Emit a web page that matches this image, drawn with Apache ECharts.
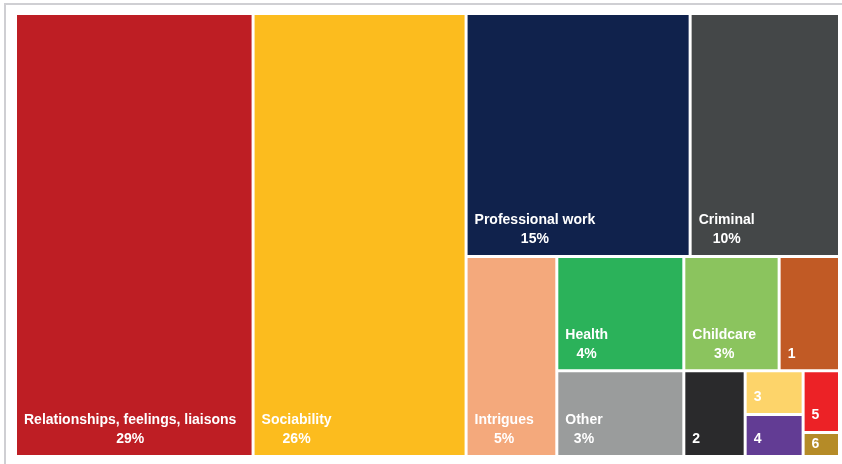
<!DOCTYPE html>
<html>
<head>
<meta charset="utf-8">
<script src="https://cdn.jsdelivr.net/npm/echarts@6/dist/echarts.min.js"></script>
<style>
  html, body { margin: 0; padding: 0; background: #ffffff; }
  #chart { width: 842px; height: 464px; }
</style>
</head>
<body>
<div id="chart"></div>
<script>
// Topics and their share of the total (%)
const topics = [
  'Relationships, feelings, liaisons', 'Sociability', 'Professional work', 'Criminal',
  'Intrigues', 'Health', 'Other', 'Childcare', '1', '2', '3', '4', '5', '6'
];
const shares = [29, 26, 15, 10, 5, 4, 3, 3, 1.9, 1.45, 0.7, 0.67, 0.62, 0.24];
// Only the larger topics carry a percentage in their label
const withPercent = [true, true, true, true, true, true, true, true, false, false, false, false, false, false];
const fills = [
  '#be1e24', '#fcbc1e', '#10224c', '#444748', '#f4a97c', '#2bb25a', '#9a9c9c',
  '#8bc45e', '#c15a25', '#2a2a2c', '#fdd46a', '#623c94', '#ec2226', '#b58b27'
];
// Nesting of the tiles (indices into the arrays above)
const grouping = [0, 1, [2, 3, [4, [5, 6], [[7, 8], [9, [10, 11], [12, 13]]]]]];
// Tiles too short for a bottom-anchored label get a vertically centred one
const centredLabel = new Set(['6']);

const FONT_FAMILY = '"Liberation Sans", Arial, sans-serif';
const FONT_SIZE = 14;

// The percentage line sits centred under the topic name, so the
// name's width is needed to anchor the two-line block at the left
const measureCtx = document.createElement('canvas').getContext('2d');
measureCtx.font = 'bold ' + FONT_SIZE + 'px ' + FONT_FAMILY;

function labelFor(i) {
  const lbl = {};
  if (withPercent[i]) {
    const w = measureCtx.measureText(topics[i]).width;
    lbl.align = 'center';
    lbl.offset = [w / 2 + 1, 0];
  } else {
    lbl.align = 'left';
    lbl.offset = [1, 0];
  }
  if (centredLabel.has(topics[i])) {
    lbl.position = 'insideLeft';
  }
  return lbl;
}

function buildNode(entry) {
  if (Array.isArray(entry)) {
    return { name: '', children: entry.map(buildNode) };
  }
  return {
    name: topics[entry],
    value: shares[entry],
    pct: withPercent[entry],
    itemStyle: { color: fills[entry] },
    label: labelFor(entry)
  };
}
const tree = grouping.map(buildNode);

const chart = echarts.init(document.getElementById('chart'), null, { renderer: 'canvas' });
chart.setOption({
  animation: false,
  backgroundColor: '#ffffff',
  graphic: [{
    type: 'rect',
    silent: true,
    shape: { x: 5, y: 4, width: 900, height: 500 },
    style: { fill: 'none', stroke: '#cfcfd3', lineWidth: 2 }
  }],
  series: [{
    type: 'treemap',
    left: 17,
    top: 15,
    width: 821,
    height: 440,
    roam: false,
    nodeClick: false,
    sort: false,
    squareRatio: 1,
    visibleMin: 0,
    breadcrumb: { show: false },
    itemStyle: { borderWidth: 0, gapWidth: 3, borderColor: '#ffffff' },
    upperLabel: { show: false },
    label: {
      show: true,
      position: 'insideBottomLeft',
      distance: 6,
      padding: 0,
      overflow: 'none',
      fontFamily: FONT_FAMILY,
      fontSize: FONT_SIZE,
      fontWeight: 'bold',
      color: '#ffffff',
      lineHeight: 19,
      formatter: function (p) {
        return p.data.pct ? p.name + '\n' + p.value + '%' : p.name;
      }
    },
    emphasis: { disabled: true },
    data: tree
  }]
});
</script>
</body>
</html>
